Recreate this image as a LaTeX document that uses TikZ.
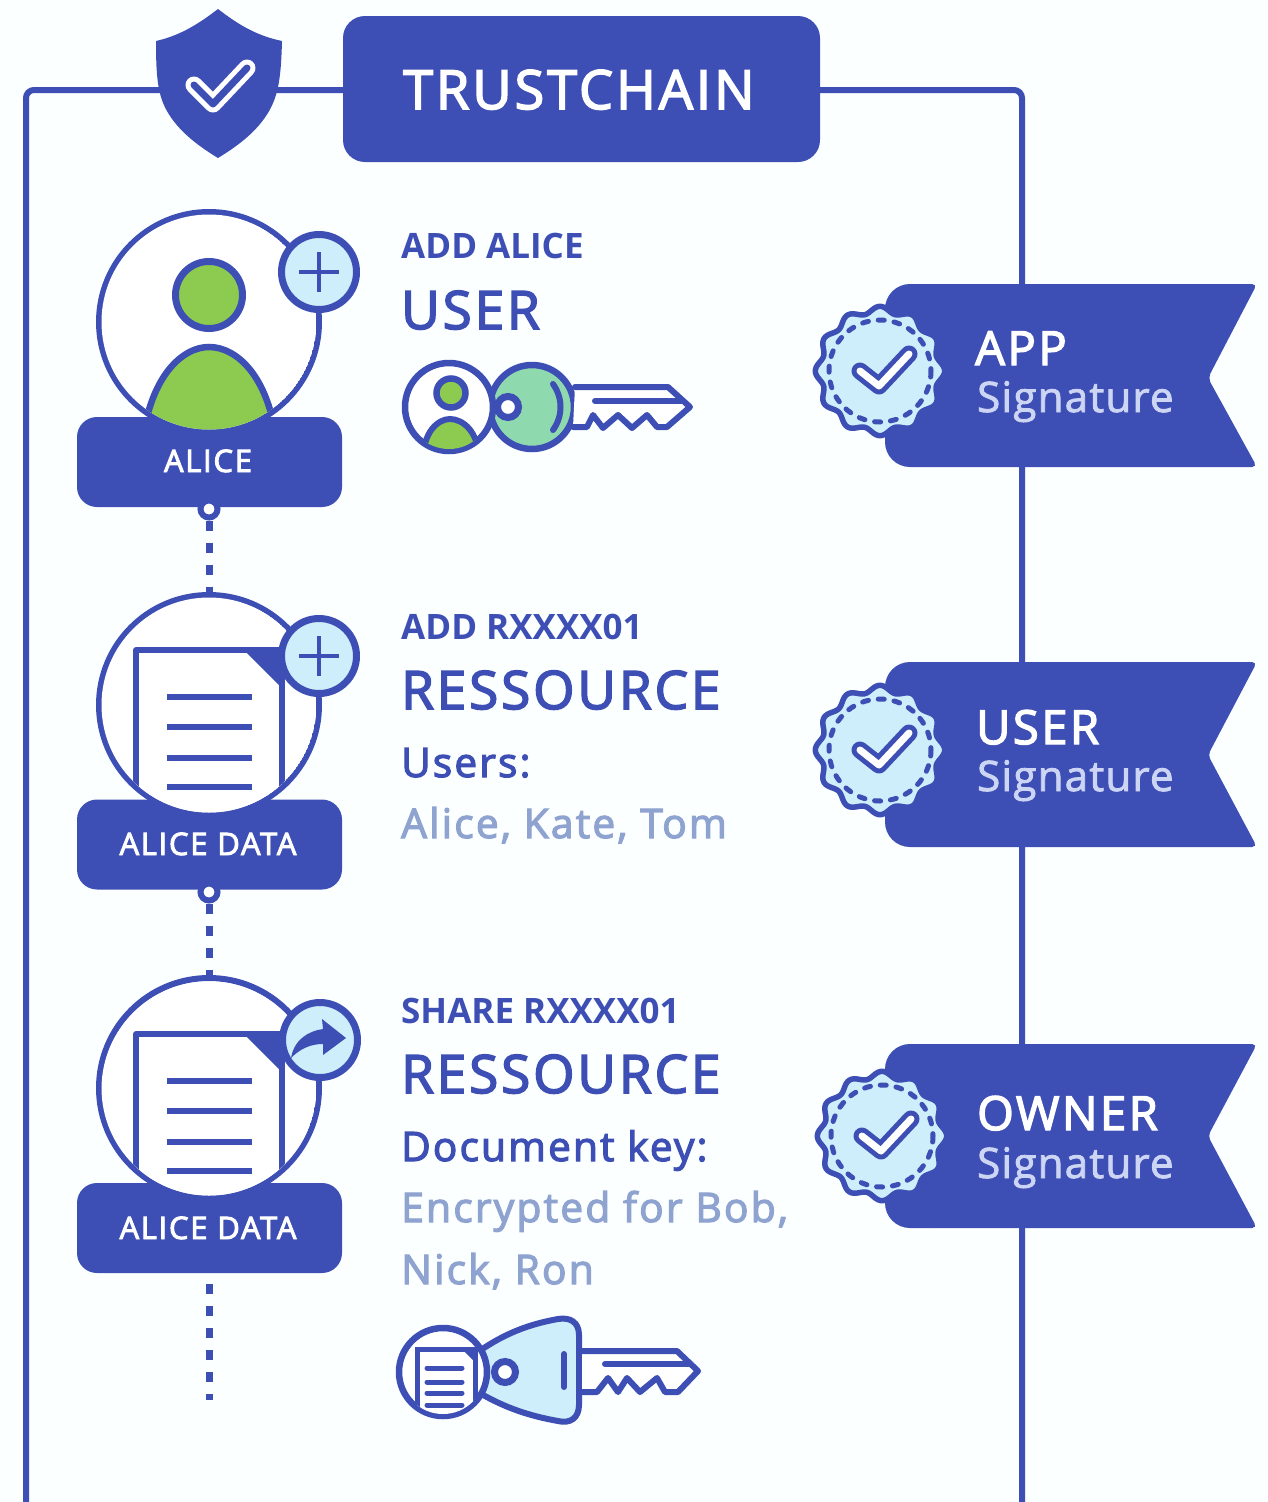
\documentclass[tikz,border=0pt]{standalone}
\usepackage{fontspec}
\usetikzlibrary{calc}
\setmainfont{Open Sans}
\newfontfamily\medfont{Open Sans}[FakeBold=3,LetterSpace=5.5]
\newfontfamily\sigfont{Open Sans}[FakeBold=2,LetterSpace=3]
\newfontfamily\boldfont{Open Sans}
\definecolor{mainb}{RGB}{61,79,181}
\definecolor{lightb}{RGB}{205,238,250}
\definecolor{greenp}{RGB}{140,203,80}
\definecolor{greenk}{RGB}{143,217,174}
\definecolor{grayb}{RGB}{143,163,208}
\definecolor{sigc}{RGB}{205,213,245}
\definecolor{paper}{RGB}{252,255,255}
\newcommand{\fs}[1]{\fontsize{#1}{#1}\selectfont}
\tikzset{
  x=1pt,y=-1pt,
  ring/.style={circle,draw=mainb,line width=6pt,minimum size=220pt,inner sep=0pt},
  tagbox/.style={fill=mainb,rounded corners=20pt,minimum width=265pt,minimum height=90pt,inner sep=0pt},
  tagtxt/.style={anchor=base,inner sep=0pt,text=white,font=\medfont\fs{31}},
  badge/.style={circle,draw=mainb,line width=7pt,fill=lightb,minimum size=75pt,inner sep=0pt},
  linkdot/.style={circle,draw=mainb,line width=6pt,fill=white,minimum size=17pt,inner sep=0pt},
  dots/.style={draw=mainb,line width=7pt,dash pattern=on 10pt off 12pt},
  txt/.style={anchor=base west,inner sep=0pt,text=mainb},
  head/.style={txt,font=\boldfont\bfseries\fs{35}},
  bigt/.style={txt,font=\medfont\fs{53}},
  mid/.style={txt,font=\medfont\fs{40.5}},
  soft/.style={txt,text=grayb,font=\medfont\fs{40.7}},
  wtxt/.style={anchor=base west,inner sep=0pt,text=white,font=\medfont\fs{47}},
  stxt/.style={anchor=base west,inner sep=0pt,text=sigc,font=\sigfont\fs{42}},
  keyline/.style={draw=mainb,line width=6pt,line join=round,line cap=round},
  keyhole/.style={circle,draw=mainb,line width=7pt,fill=white,minimum size=21pt,inner sep=0pt},
  keydisc/.style={circle,draw=mainb,line width=6.5pt,fill=white,minimum size=88pt,inner sep=0pt},
}
% ribbon: #1 top, #2 notch y, #3 bottom
\newcommand{\ribbon}[3]{%
  \fill[mainb,rounded corners=25pt] (885,#1) rectangle (960,#3);
  \fill[mainb,rounded corners=5pt] (930,#1) -- (1257,#1) -- (1208,#2) -- (1257,#3) -- (930,#3) -- cycle;
}
% seal at x,y
\newcommand{\seal}[2]{%
  \begin{scope}[shift={(#1,#2)}]
    \draw[mainb,fill=lightb,line width=5.5pt,line join=round] plot[domain=0:360,samples=193,smooth] ({(61.5+3.2*cos(12*\x))*cos(\x)},{(61.5+3.2*cos(12*\x))*sin(\x)}) -- cycle;
    \draw[mainb,line width=5pt,line cap=round,dash pattern=on 6pt off 9.9pt] (0,0) circle (51);
    \draw[mainb,line width=17pt,line cap=round,line join=round] (-20,0) -- (-1,15) -- (29,-17);
    \draw[white,line width=7pt,line cap=round,line join=round] (-20,0) -- (-1,15) -- (29,-17);
  \end{scope}
}
% document page, #1 = y shift relative to second group
\newcommand{\docpage}[1]{%
  \begin{scope}[shift={(0,#1)}]
    \fill[white] (209,705) circle (107.5);
    \draw[mainb,line width=5.5pt,line join=round,fill=white] (282,840) -- (282,650) -- (136,650) -- (136,840);
    \fill[mainb] (244,650) -- (282,650) -- (282,688) -- cycle;
    \foreach \yy in {697,727,758,787}{\draw[mainb,line width=5.5pt] (167,\yy) -- (252,\yy);}
  \end{scope}
}
\begin{document}
\begin{tikzpicture}
\useasboundingbox (0,0) rectangle (1267,1502);
\fill[paper] (0,0) rectangle (1267,1502);
% frame
\coordinate (fl) at (26,1510);
\coordinate (fr) at (1022,1510);
\draw[mainb,line width=6pt,rounded corners=8pt] (fl) -- (26,90) -- (1022,90) -- (fr);
% shield
\fill[mainb] (218,9) .. controls (196,26) and (178,36) .. (156,41) -- (156,41)
  .. controls (156,80) and (158,98) .. (170,116) .. controls (182,134) and (200,147) .. (218,158)
  .. controls (236,147) and (254,134) .. (266,116) .. controls (278,98) and (281,80) .. (282,41)
  .. controls (258,36) and (240,26) .. (218,9) -- cycle;
\draw[white,line width=17pt,line cap=round,line join=round] (194,85) -- (213,104) -- (247,68);
\draw[mainb,line width=7pt,line cap=round,line join=round] (194,85) -- (213,104) -- (247,68);
% title
\node[fill=mainb,rounded corners=22pt,minimum width=477pt,minimum height=146pt,inner sep=0pt] (title) at (581.5,89) {};
\node[anchor=base west,inner sep=0pt,text=white,font=\medfont\fs{54}] (titletxt) at (403,109) {TRUSTCHAIN};

% ---- group 1
\node[ring] (c1) at (209,322) {};
\node[tagbox] (t1) at (209.5,462) {};
\begin{scope}
  \clip (c1.center) circle (107.5);
  \fill[white] (c1.center) circle (107.5);
  \draw[mainb,line width=6.5pt,fill=greenp] (142,445) .. controls (150,375) and (183,347) .. (209,347) .. controls (236,347) and (269,375) .. (277,445) -- cycle;
\end{scope}
\node[circle,draw=mainb,line width=7pt,fill=greenp,minimum size=67pt,inner sep=0pt] (h1) at (209,295) {};
\node[badge] (b1) at (319,272) {};
\draw[mainb,line width=4.5pt] (299,272) -- (339,272) (319,252) -- (319,292);
\node[tagtxt] (t1txt) at (208,472) {ALICE};
\node[linkdot] (d1) at (209,509) {};

% ---- group 2
\node[ring] (c2) at (209,705) {};
\node[tagbox] (t2) at (209.5,844.5) {};
\begin{scope}
  \clip (c2.center) circle (107.5);
  \docpage{0}
\end{scope}
\node[badge] (b2) at (319,656) {};
\draw[mainb,line width=4.5pt] (299,656) -- (339,656) (319,636) -- (319,676);
\node[tagtxt] (t2txt) at (208,855) {ALICE DATA};
\node[linkdot] (d2) at (209,892) {};

% ---- group 3
\node[ring] (c3) at (209,1088) {};
\node[tagbox] (t3) at (209.5,1228) {};
\begin{scope}
  \clip (c3.center) circle (107.5);
  \docpage{384}
\end{scope}
\node[badge] (b3) at (320,1040) {};
\fill[mainb] (291,1058) .. controls (294,1040) and (308,1031) .. (323,1029) -- (322,1019) -- (346,1038) -- (323,1055) -- (323,1044) .. controls (310,1044) and (300,1049) .. (291,1058) -- cycle;
\node[tagtxt] (t3txt) at (208,1239) {ALICE DATA};

% connectors
\coordinate (endd) at (209,1400);
\draw[dots] (d1.south) -- (c2.north);
\draw[dots] (d2.south) -- (c3.north);
\draw[dots] ($(t3.south)+(-0.5,11)$) -- (endd);

% ---- texts
\node[head] (a1) at (401,258) {ADD ALICE};
\node[bigt] (a2) at (401,329) {USER};
\node[head] (b1t) at (401,639) {ADD RXXXX01};
\node[bigt] (b2t) at (401,709) {RESSOURCE};
\node[mid] (b3t) at (401,777) {Users:};
\node[soft] (b4t) at (401,838) {Alice, Kate, Tom};
\node[head] (c1t) at (401,1023) {SHARE RXXXX01};
\node[bigt] (c2t) at (401,1093) {RESSOURCE};
\node[mid] (c3t) at (401,1161) {Document key:};
\node[soft] (c4t) at (401,1222) {Encrypted for Bob,};
\node[soft] (c5t) at (401,1284) {Nick, Ron};

% ---- key 1
\node[circle,draw=mainb,line width=6.5pt,fill=greenk,minimum size=84pt,inner sep=0pt] (kh1) at (532,407) {};
\draw[keyline,fill=white] (575,387) -- (668,387) -- (690,407) -- (667,427) -- (657,427) -- (647,415) -- (632,428) -- (618,415) -- (603,428) -- (593,415) -- (587,427) -- (573,427);
\draw[keyline] (595,401) -- (683,401);
\draw[keyline] (553,384) .. controls (563,398) and (563,416) .. (553,430);
\node[keydisc] (kp1) at (449,407) {};
\begin{scope}
  \clip (kp1.center) circle (42);
  \draw[mainb,line width=6pt,fill=greenp] (423,460) .. controls (423,432) and (438,419) .. (450,419) .. controls (463,419) and (479,432) .. (479,460) -- cycle;
\end{scope}
\node[circle,draw=mainb,line width=6.5pt,fill=greenp,minimum size=29pt,inner sep=0pt] (kph1) at (451,393) {};
\node[keyhole] (kho1) at (508,407) {};

% ---- key 2
\draw[keyline,fill=lightb] (478,1352) .. controls (505,1333) and (530,1324) .. (558,1319) .. controls (570,1317) and (579,1322) .. (579,1335) -- (579,1405) .. controls (579,1418) and (570,1424) .. (558,1421) .. controls (530,1416) and (505,1408) .. (478,1392) -- cycle;
\draw[keyline,fill=white] (582,1351) -- (677,1351) -- (698,1371) -- (678,1392) -- (665,1392) -- (657,1378) -- (640,1392) -- (627,1378) -- (618,1392) -- (608,1378) -- (597,1392) -- (582,1392);
\draw[keyline] (605,1364) -- (688,1364);
\draw[keyline] (564,1354) -- (564,1387);
\node[keydisc] (kp2) at (443,1372) {};
\begin{scope}
  \clip (kp2.center) circle (42);
  \draw[mainb,line width=5pt,fill=white] (417,1420) -- (417,1349) -- (475,1349) -- (475,1420);
  \fill[mainb] (462,1349) -- (475,1349) -- (475,1362) -- cycle;
  \foreach \yy in {1368,1382,1393,1405}{\draw[mainb,line width=5pt,line cap=round] (427,\yy) -- (462,\yy);}
\end{scope}
\node[keyhole] (kho2) at (505,1372) {};

% ---- ribbons
\ribbon{284}{378}{467}
\seal{880}{371}
\node[wtxt] (r1a) at (975,365) {APP};
\node[stxt] (r1b) at (977,412) {Signature};
\ribbon{662}{755}{847}
\seal{880}{750}
\node[wtxt] (r2a) at (976,744) {USER};
\node[stxt] (r2b) at (977,791) {Signature};
\ribbon{1044}{1136}{1228}
\seal{882}{1136}
\node[wtxt] (r3a) at (977,1130) {OWNER};
\node[stxt] (r3b) at (977,1178) {Signature};
\end{tikzpicture}
\end{document}
